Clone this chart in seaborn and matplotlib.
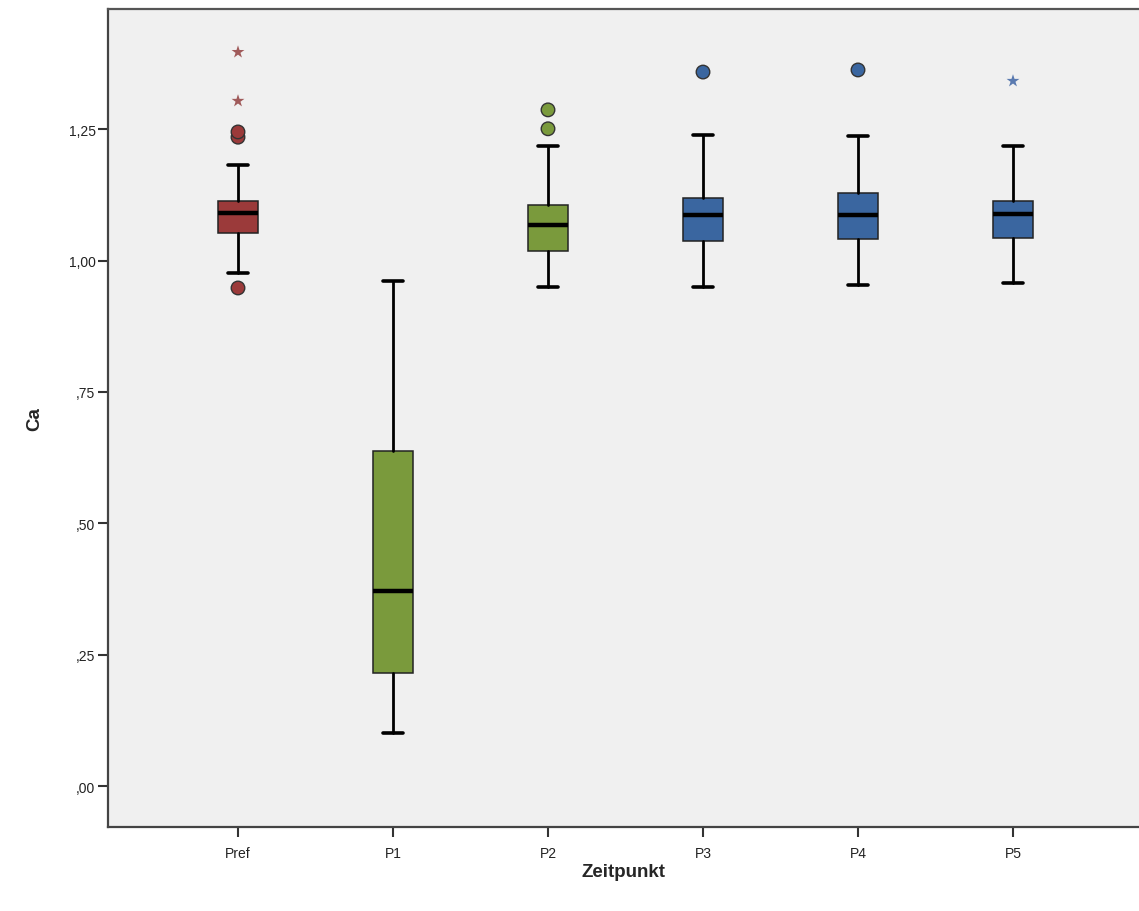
import matplotlib
matplotlib.use("Agg")
import matplotlib.pyplot as plt
import seaborn as sns
import pandas as pd
from matplotlib.ticker import FuncFormatter

# ---- data ----
categories = ["Pref", "P1", "P2", "P3", "P4", "P5"]
whisker_low = [0.977, 0.101, 0.950, 0.950, 0.954, 0.958]
q1 = [1.053, 0.215, 1.018, 1.037, 1.041, 1.043]
median = [1.091, 0.371, 1.068, 1.087, 1.087, 1.089]
q3 = [1.114, 0.638, 1.106, 1.119, 1.129, 1.114]
whisker_high = [1.182, 0.961, 1.218, 1.239, 1.237, 1.218]

# outliers (circles) and extreme values (stars)
outlier_cat = ["Pref", "Pref", "Pref", "P2", "P2", "P3", "P4"]
outlier_val = [0.948, 1.235, 1.245, 1.251, 1.287, 1.359, 1.363]
extreme_cat = ["Pref", "Pref", "P5"]
extreme_val = [1.304, 1.397, 1.342]

box_colors = ["#9b3a3a", "#7a9a3c", "#7a9a3c", "#3a66a0", "#3a66a0", "#3a66a0"]
star_colors = {"Pref": "#a05a5a", "P5": "#5a7ab0"}
y_ticks = [0.0, 0.25, 0.50, 0.75, 1.00, 1.25]

# ---- styling ----
sns.set_style("ticks", {"axes.facecolor": "#f0f0f0"})
plt.rcParams["font.family"] = ["Liberation Sans", "DejaVu Sans"]

fig = plt.figure(figsize=(11.39, 9.12), dpi=100)
ax = fig.add_axes([108 / 1139, 1 - 828 / 912, 1 - 108 / 1139, (828 - 10) / 912])
ax.set_facecolor("#f0f0f0")

pos = {c: i for i, c in enumerate(categories)}
stats = []
for i, c in enumerate(categories):
    stats.append(dict(label=c, whislo=whisker_low[i], q1=q1[i], med=median[i],
                      q3=q3[i], whishi=whisker_high[i], fliers=[]))

bp = ax.bxp(stats, positions=list(range(len(categories))), widths=0.26,
            patch_artist=True, showfliers=False,
            boxprops=dict(linewidth=1.1, edgecolor="#222222"),
            medianprops=dict(color="black", linewidth=3.2),
            whiskerprops=dict(color="black", linewidth=2.0),
            capprops=dict(color="black", linewidth=2.6),
            capwidths=0.125)
for patch, col in zip(bp["boxes"], box_colors):
    patch.set_facecolor(col)

# outliers (circles)
df_out = pd.DataFrame({"x": [pos[c] for c in outlier_cat], "y": outlier_val, "cat": outlier_cat})
col_map = dict(zip(categories, box_colors))
sns.scatterplot(data=df_out, x="x", y="y", hue="cat", palette=col_map, s=95,
                edgecolor="#333333", linewidth=1.0, legend=False, ax=ax, zorder=5)

# extremes (stars)
df_ext = pd.DataFrame({"x": [pos[c] for c in extreme_cat], "y": extreme_val, "cat": extreme_cat})
sns.scatterplot(data=df_ext, x="x", y="y", hue="cat", palette=star_colors, marker="*",
                s=95, linewidth=0, legend=False, ax=ax, zorder=5)

# ---- axes ----
ax.set_xlim(-130 / 155, (1139 - 238) / 155)
ax.set_ylim(-0.078, 1.479)
ax.set_xticks(range(len(categories)))
ax.set_xticklabels(categories)
ax.set_yticks(y_ticks)


def fmt(v, _):
    s = f"{v:.2f}".replace(".", ",")
    if s.startswith("0,"):
        s = s[1:]
    return s


ax.yaxis.set_major_formatter(FuncFormatter(fmt))
ax.tick_params(axis="both", direction="out", length=7, width=1.5, color="#333333",
               labelsize=10, labelcolor="#222222", pad=2)
ax.tick_params(axis="x", pad=7)
for side in ["left", "bottom"]:
    ax.spines[side].set_linewidth(1.6)
    ax.spines[side].set_color("#444444")
ax.spines["top"].set_linewidth(1.6)
ax.spines["top"].set_color("#555555")
ax.spines["right"].set_visible(False)

ax.set_xlabel("Zeitpunkt", fontsize=13.5, fontweight="bold", labelpad=2)
ax.set_ylabel("Ca", fontsize=13.5, fontweight="bold", labelpad=18)

fig.savefig("out.png", dpi=100)
